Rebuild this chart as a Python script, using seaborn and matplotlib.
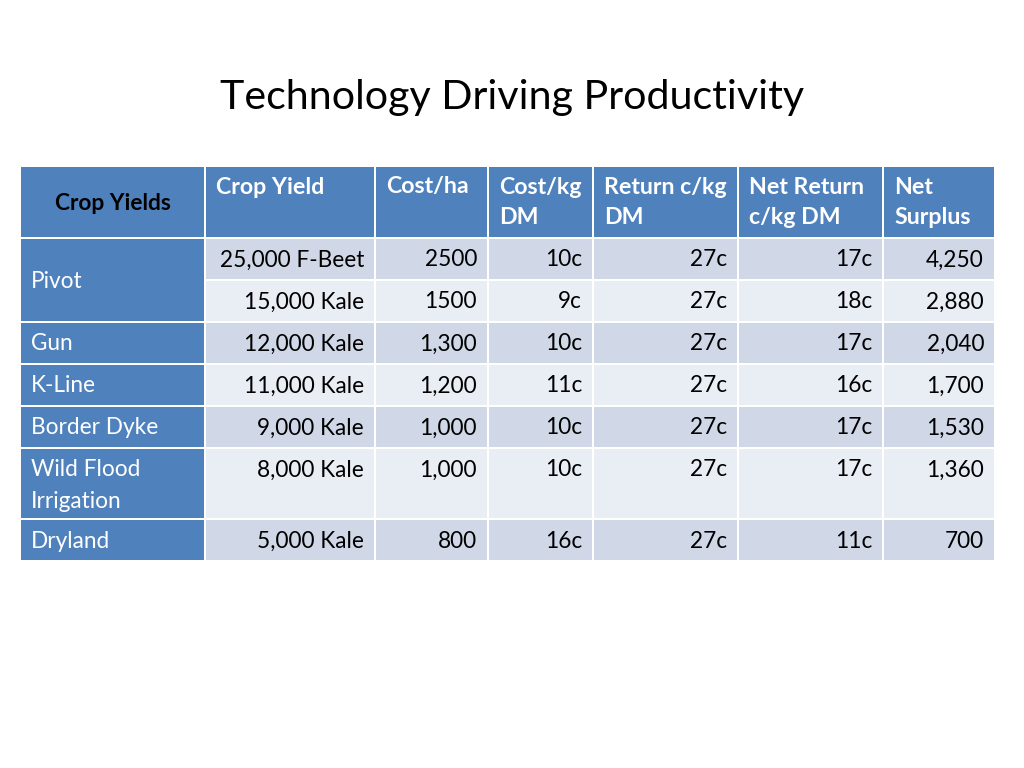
import matplotlib
matplotlib.use("Agg")
import matplotlib.pyplot as plt
import seaborn as sns

# table data
title = "Technology Driving Productivity"
corner_label = "Crop Yields"
headers = ["Crop Yield", "Cost/ha", "Cost/kg\nDM", "Return c/kg\nDM", "Net Return\nc/kg DM", "Net\nSurplus"]
methods = ["Pivot", "Gun", "K-Line", "Border Dyke", "Wild Flood\nIrrigation", "Dryland"]
method_span = [2, 1, 1, 1, 1, 1]
crop_yield = ["25,000 F-Beet", "15,000 Kale", "12,000 Kale", "11,000 Kale", "9,000 Kale", "8,000 Kale", "5,000 Kale"]
cost_ha = ["2500", "1500", "1,300", "1,200", "1,000", "1,000", "800"]
cost_kg = ["10c", "9c", "10c", "11c", "10c", "10c", "16c"]
return_kg = ["27c", "27c", "27c", "27c", "27c", "27c", "27c"]
net_return = ["17c", "18c", "17c", "16c", "17c", "17c", "11c"]
net_surplus = ["4,250", "2,880", "2,040", "1,700", "1,530", "1,360", "700"]

sns.set_theme(style="white")
plt.rcParams["font.family"] = ["Lato", "DejaVu Sans"]

HEAD_BLUE = "#4F81BD"
BAND_DARK = "#D0D8E8"
BAND_LIGHT = "#E9EDF4"
FS_BODY = 16.3
FS_HEAD = 16.7
FS_CORNER = 16.4

# layout (pixels)
col_edges = [21, 206, 376, 489, 594, 739, 884, 996]
header_top, header_h = 167, 70
line_row_h, extra_line_h = 40, 29
gap = 2

body_cols = [crop_yield, cost_ha, cost_kg, return_kg, net_return, net_surplus]
n_rows = len(crop_yield)

# row heights: rows whose method label has two lines are taller
row_lines = []
for label, span in zip(methods, method_span):
    for _ in range(span):
        row_lines.append(label.count("\n") + 1 if span == 1 else 1)
row_tops = []
y = header_top + header_h + gap
for nl in row_lines:
    row_tops.append(y)
    y += line_row_h + extra_line_h * (nl - 1) + gap
row_heights = [line_row_h + extra_line_h * (nl - 1) for nl in row_lines]

fig = plt.figure(figsize=(10.24, 7.68), dpi=100)
ax = fig.add_axes([0, 0, 1, 1])
ax.set_xlim(0, 1024)
ax.set_ylim(768, 0)
ax.axis("off")

ax.text(512, 97, title, ha="center", va="center", fontsize=29.6, color="black")

# header cells
for c in range(len(col_edges) - 1):
    left, right = col_edges[c], col_edges[c + 1]
    ax.bar(left, header_h, width=right - left - gap, bottom=header_top,
           align="edge", color=HEAD_BLUE, linewidth=0)
ax.text((col_edges[0] + col_edges[1] - gap) / 2, header_top + header_h / 2 + 1, corner_label,
        ha="center", va="center", fontsize=FS_CORNER, fontweight="bold", color="black")
for c, h in enumerate(headers):
    for k, line in enumerate(h.split("\n")):
        ax.text(col_edges[c + 1] + 10, header_top + 20 + 31 * k, line, ha="left", va="center",
                fontsize=FS_HEAD, fontweight="bold", color="white")

# method column (merged cells)
r = 0
for label, span in zip(methods, method_span):
    top = row_tops[r]
    bottom = row_tops[r + span - 1] + row_heights[r + span - 1]
    ax.bar(col_edges[0], bottom - top, width=col_edges[1] - col_edges[0] - gap, bottom=top,
           align="edge", color=HEAD_BLUE, linewidth=0)
    lines = label.split("\n")
    if len(lines) == 1:
        ax.text(col_edges[0] + 10, (top + bottom) / 2 + 1, label, ha="left", va="center",
                fontsize=FS_BODY, color="white")
    else:
        for k, line in enumerate(lines):
            ax.text(col_edges[0] + 10, top + 21 + 31 * k, line, ha="left", va="center",
                    fontsize=FS_BODY, color="white")
    r += span

# body cells
for i in range(n_rows):
    band = BAND_DARK if i % 2 == 0 else BAND_LIGHT
    for c, col in enumerate(body_cols):
        left, right = col_edges[c + 1], col_edges[c + 2]
        ax.bar(left, row_heights[i], width=right - left - gap, bottom=row_tops[i],
               align="edge", color=band, linewidth=0)
        ax.text(right - gap - 10, row_tops[i] + 21, col[i], ha="right", va="center",
                fontsize=FS_BODY, color="black")

fig.savefig("out.png", dpi=100, facecolor="white")
